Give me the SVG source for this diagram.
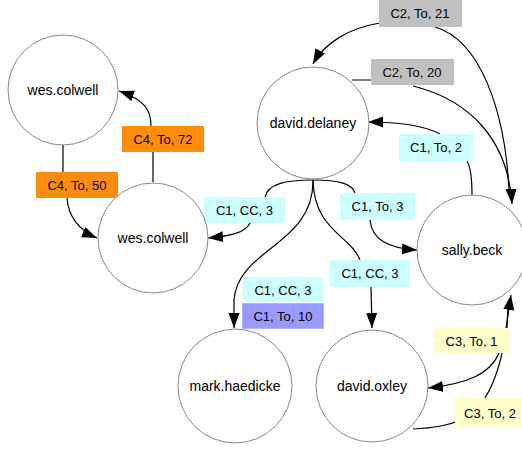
<svg xmlns="http://www.w3.org/2000/svg" width="522" height="450" viewBox="0 0 522 450">
<style>
.node circle{fill:#fff;stroke:#888;stroke-width:1}
.node text{font-family:"Liberation Sans",Arial,sans-serif;font-size:14px;fill:#000;text-anchor:middle}
.edge{fill:none;stroke:#000;stroke-width:1.2}
.arr{marker-end:url(#ah)}
.lbl text{font-family:"Liberation Sans",Arial,sans-serif;font-size:13px;fill:#000;text-anchor:middle}
.orange{fill:#ff8c0a}
.gray{fill:#c0c0c0}
.cyan{fill:#ccffff}
.yellow{fill:#ffffcc}
.purple{fill:#9999ff;stroke:#b3b3ff;stroke-width:1}
</style>
<defs>
<marker id="ah" markerUnits="userSpaceOnUse" markerWidth="16" markerHeight="12" refX="15" refY="5.5" orient="auto">
<path d="M0,0 L15,5.5 L0,11 z" fill="#000"/>
</marker>
</defs>
<rect width="522" height="450" fill="#fff"/>
<g id="connectors">
<!-- C4, To, 50 : wes top -> wes bottom -->
<path class="edge arr" d="M63,145 L63,172 M67,198 C68,215 78,230 97,238"/>
<!-- C4, To, 72 : wes bottom -> wes top -->
<path class="edge arr" d="M153,182 L153,152 M151,126 C151,110 145,100 119,91"/>
<!-- C1, CC, 3 : delaney -> wes bottom -->
<path class="edge arr" d="M313,180 C285,180 268,184 265,197 M250,223 C246,232 232,236 208,238"/>
<!-- C1, To, 3 : delaney -> sally -->
<path class="edge arr" d="M313,180 C340,180 352,184 355,193 M370,220 C372,240 388,248 417,250"/>
<!-- C1, CC, 3 / C1, To, 10 : delaney -> mark -->
<path class="edge arr" d="M313,180 C314,245 238,248 234,300 L234,328"/>
<!-- C1, CC, 3 : delaney -> oxley -->
<path class="edge" d="M313,180 C314,230 350,235 360,260"/>
<path class="edge arr" d="M371,287 L372,328"/>
<!-- C1, To, 2 : sally -> delaney -->
<path class="edge arr" d="M472,195 C472,175 470,166 467,161 M440,134 C425,126 400,122 368,122"/>
<!-- C2, To, 20 : delaney -> sally -->
<path class="edge arr" d="M352,80 L372,80 M413,86 C470,100 508,140 512,204"/>
<!-- C2, To, 21 : sally -> delaney -->
<path class="edge" d="M509,190 C505,110 480,40 435,27"/>
<path class="edge arr" d="M380,23 C350,28 325,42 313,64"/>
<!-- C3, To, 1 : sally -> oxley -->
<path class="edge" d="M508,305 L507,328"/>
<path class="edge arr" d="M499,353 C490,375 465,384 428,388"/>
<!-- C3, To, 2 : oxley -> sally -->
<path class="edge" d="M413,429 C435,428 452,424 460,420"/>
<path class="edge arr" d="M485,398 C496,380 503,355 505,335 L511,295"/>
</g>
<g id="labels" class="lbl">
<g id="lbl-c4-50"><rect class="orange" x="36" y="172" width="82" height="26"/><text x="77" y="190">C4, To, 50</text></g>
<g id="lbl-c4-72"><rect class="orange" x="122" y="126" width="82" height="26"/><text x="163" y="144">C4, To, 72</text></g>
<g id="lbl-c2-21"><rect class="gray" x="379" y="0" width="83" height="27"/><text x="420" y="18">C2, To, 21</text></g>
<g id="lbl-c2-20"><rect class="gray" x="371" y="59" width="83" height="26"/><text x="412" y="77">C2, To, 20</text></g>
<g id="lbl-c1-2"><rect class="cyan" x="399" y="134" width="74" height="27"/><text x="436" y="152">C1, To, 2</text></g>
<g id="lbl-c1-cc3-wes"><rect class="cyan" x="204" y="197" width="81" height="26"/><text x="244.5" y="215">C1, CC, 3</text></g>
<g id="lbl-c1-to3"><rect class="cyan" x="340" y="193" width="75" height="27"/><text x="377.5" y="211">C1, To, 3</text></g>
<g id="lbl-c1-cc3-oxley"><rect class="cyan" x="330" y="260" width="80" height="27"/><text x="370" y="278">C1, CC, 3</text></g>
<g id="lbl-c1-cc3-mark"><rect class="cyan" x="243" y="277" width="80" height="25"/><text x="283" y="295">C1, CC, 3</text></g>
<g id="lbl-c1-10"><rect class="purple" x="242.5" y="303.5" width="81" height="25"/><text x="283" y="321">C1, To, 10</text></g>
<g id="lbl-c3-1"><rect class="yellow" x="434" y="328" width="75" height="25"/><text x="471.5" y="346">C3, To, 1</text></g>
<g id="lbl-c3-2"><rect class="yellow" x="455" y="398" width="67" height="29"/><text x="490" y="418">C3, To, 2</text></g>
</g>
<g id="node-wes-top" class="node"><circle cx="63" cy="90" r="55"/><text x="63" y="95">wes.colwell</text></g>
<g id="node-wes-bottom" class="node"><circle cx="153" cy="238" r="55"/><text x="153" y="243">wes.colwell</text></g>
<g id="node-delaney" class="node"><circle cx="313" cy="123" r="56"/><text x="313" y="128">david.delaney</text></g>
<g id="node-sally" class="node"><circle cx="472" cy="250" r="55"/><text x="472" y="255">sally.beck</text></g>
<g id="node-mark" class="node"><circle cx="235" cy="386" r="57"/><text x="235" y="391">mark.haedicke</text></g>
<g id="node-oxley" class="node"><circle cx="372" cy="386" r="56"/><text x="372" y="391">david.oxley</text></g>
</svg>
